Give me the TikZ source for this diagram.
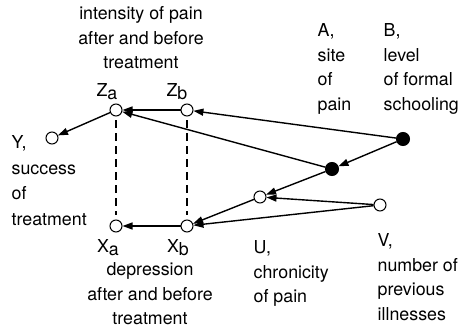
\documentclass[tikz,border=0pt]{standalone}
\usepackage{fontspec}
\setmainfont{TeX Gyre Heros}
\usetikzlibrary{arrows.meta}
\begin{document}
\begin{tikzpicture}[x=1pt, y=-1pt, line width=1.4pt,
		>={Triangle[length=10pt,width=7pt]},
		open/.style={circle,draw,line width=1pt,fill=white,inner sep=0pt,minimum size=12pt},
		closed/.style={circle,draw,fill=black,line width=1pt,inner sep=0pt,minimum size=13pt},
		lbl/.style={inner sep=0pt,font=\fontsize{17.8}{24.5}\selectfont,align=left},
		every label/.style={inner sep=0pt,font=\fontsize{17.8}{24.5}\selectfont}
		]
	\useasboundingbox (0,0) rectangle (461,328);
	% variables
	\node [open,label={[xshift=-9pt,label distance=3pt]above:Z\raisebox{-3pt}{a}}] (za) at (116,110) {};
	\node [open,label={[xshift=-10pt,label distance=3pt]above:Z\raisebox{-3pt}{b}}] (zb) at (187,110) {};
	\node [open,label={[xshift=-8pt,label distance=6pt]below:X\raisebox{-3pt}{a}}] (xa) at (116,226) {};
	\node [open,label={[xshift=-9pt,label distance=6pt]below:X\raisebox{-3pt}{b}}] (xb) at (187,226) {};
	\node [open] (y) at (52,138) {};
	\node [open] (u) at (260,197) {};
	\node [open] (v) at (380,205) {};
	\node [closed] (a) at (332,169) {};
	\node [closed] (b) at (403,139) {};
	% descriptions
	\node [lbl,anchor=north,align=center] (zlab) at (141,6) {intensity of pain\\after and before\\treatment};
	\node [lbl,anchor=north,align=center] (xlab) at (150,262) {depression\\after and before\\treatment};
	\node [lbl,anchor=north west,font=\fontsize{17.8}{25.5}\selectfont] (ylab) at (11,135) {Y,\\success\\of\\treatment};
	\node [lbl,anchor=north west] (alab) at (317,23) {A,\\site\\of\\pain};
	\node [lbl,anchor=north west] (blab) at (383,23) {B,\\level\\of formal\\schooling};
	\node [lbl,anchor=north west] (ulab) at (253,240) {U,\\chronicity\\of pain};
	\node [lbl,anchor=north west] (vlab) at (377,233) {V,\\number of\\previous\\illnesses};
	% arrows
	\draw [->] (za) -- (y);
	\draw [->] (zb) -- (za);
	\draw [->] (b) -- (zb);
	\draw [->] (a) -- (za);
	\draw [->] (b) -- (a);
	\draw [->] (a) -- (u);
	\draw [->] (v) -- (u);
	\draw [->] (u) -- (xb);
	\draw [->] (v) -- (xb);
	\draw [->] (xb) -- (xa);
	\draw [dash pattern=on 8pt off 5pt,shorten <=4pt,shorten >=4pt] (za) -- (xa);
	\draw [dash pattern=on 8pt off 5pt,shorten <=4pt,shorten >=4pt] (zb) -- (xb);
\end{tikzpicture}
\end{document}
